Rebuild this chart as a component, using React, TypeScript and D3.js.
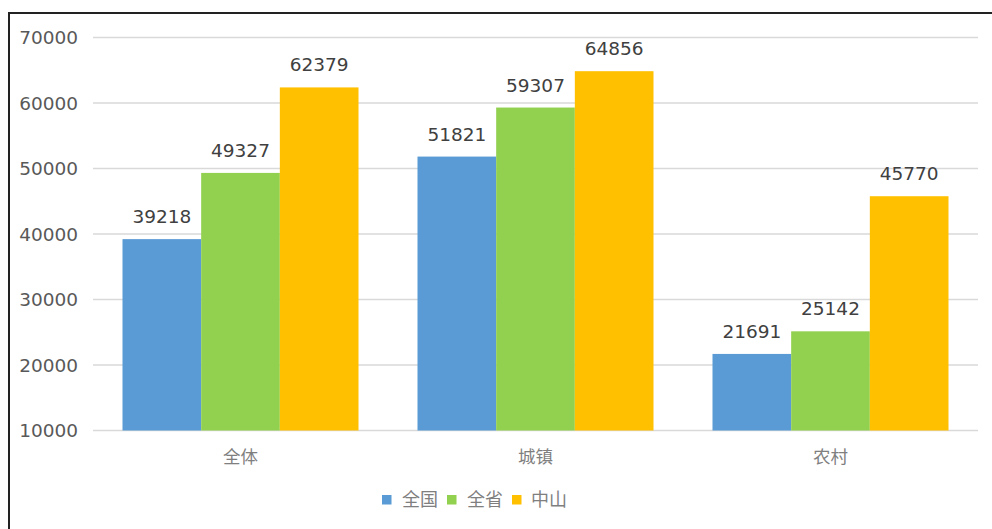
import React from "react";
import * as d3 from "d3";

const categories = ["全体", "城镇", "农村"];
const seriesNames = ["全国", "全省", "中山"];
const national = [39218, 51821, 21691];
const province = [49327, 59307, 25142];
const zhongshan = [62379, 64856, 45770];
const yTicks = [10000, 20000, 30000, 40000, 50000, 60000, 70000];
const colors = ["#5B9BD5", "#92D050", "#FFC000"];

export default function App() {
  const W = 992, H = 529;
  const seriesValues = [national, province, zhongshan];
  const x0 = d3.scaleBand<string>().domain(categories).range([93, 978]).paddingInner(0.2).paddingOuter(0.1);
  const x1 = d3.scaleBand<string>().domain(seriesNames).range([0, x0.bandwidth()]);
  const y = d3.scaleLinear().domain([10000, 70000]).range([430.5, 37.5]);
  const numFont = "'DejaVu Sans', Verdana, sans-serif";
  const cjkFont = "'Noto Sans CJK SC', sans-serif";

  const legendItems = [
    { x: 382, tx: 402 },
    { x: 447, tx: 467 },
    { x: 512, tx: 531 },
  ];

  return (
    <svg width={W} height={H} style={{ position: "absolute", left: 0, top: 0, background: "#fff" }}>
      <rect x={0} y={0} width={W} height={H} fill="#fff" />
      {/* frame */}
      <line x1={8} y1={13} x2={W} y2={13} stroke="#222" strokeWidth={2} />
      <line x1={9} y1={12} x2={9} y2={H} stroke="#222" strokeWidth={2} />
      {/* grid + ticks */}
      {yTicks.map((t) => (
        <g key={t}>
          <line x1={93} x2={978} y1={y(t)} y2={y(t)} stroke="#D9D9D9" strokeWidth={1.3} />
          <text x={78} y={y(t)} dy="0.36em" textAnchor="end" fontFamily={numFont} fontSize={18.5} fill="#595959">
            {t}
          </text>
        </g>
      ))}
      {/* bars */}
      {categories.map((c, ci) => (
        <g key={c} transform={`translate(${x0(c)},0)`}>
          {seriesNames.map((s, si) => {
            const v = seriesValues[si][ci];
            const bx = x1(s)!;
            return (
              <g key={s}>
                <rect x={bx} y={y(v)} width={x1.bandwidth()} height={y(10000) - y(v)} fill={colors[si]} />
                <text
                  x={bx + x1.bandwidth() / 2}
                  y={y(v) - 16}
                  textAnchor="middle"
                  fontFamily={numFont}
                  fontSize={18.5}
                  fill="#404040"
                >
                  {v}
                </text>
              </g>
            );
          })}
        </g>
      ))}
      {/* category labels */}
      {categories.map((c) => (
        <text
          key={c}
          x={x0(c)! + x0.bandwidth() / 2}
          y={457}
          dy="0.35em"
          textAnchor="middle"
          fontFamily={cjkFont}
          fontSize={17.5}
          fill="#7F7F7F"
        >
          {c}
        </text>
      ))}
      {/* legend */}
      {seriesNames.map((s, i) => (
        <g key={s}>
          <rect x={legendItems[i].x} y={495} width={9.5} height={9.5} fill={colors[i]} />
          <text x={legendItems[i].tx} y={500} dy="0.35em" fontFamily={cjkFont} fontSize={18} fill="#7F7F7F">
            {s}
          </text>
        </g>
      ))}
    </svg>
  );
}
